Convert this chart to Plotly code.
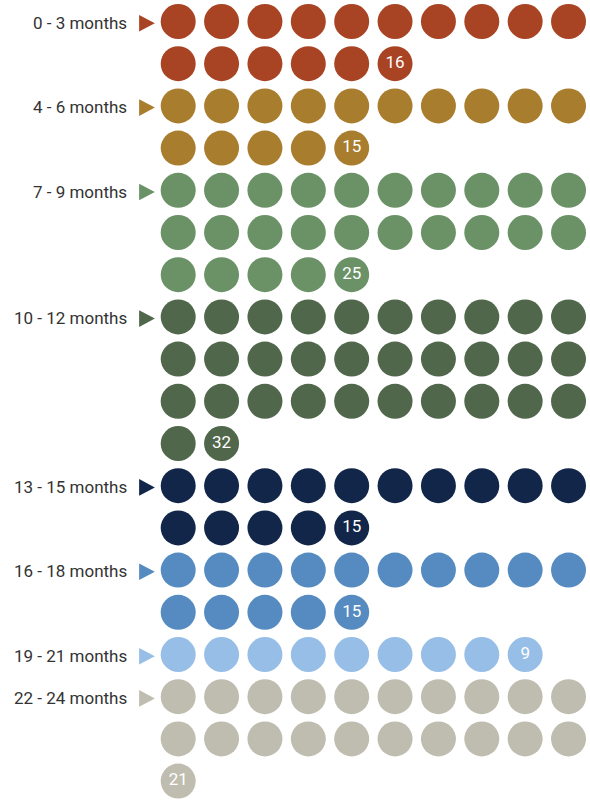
import math
import plotly.graph_objects as go

# ---- data ----
groups = ["0 - 3 months", "4 - 6 months", "7 - 9 months", "10 - 12 months",
          "13 - 15 months", "16 - 18 months", "19 - 21 months", "22 - 24 months"]
counts = [16, 15, 25, 32, 15, 15, 9, 21]
colors = ["#A84424", "#A97D2E", "#6B9266", "#50674C",
          "#12264A", "#558BC0", "#97BEE6", "#BFBDB0"]

# ---- layout constants ----
PER_ROW = 10
W, H = 590, 802
COL0_PX, COL_PITCH = 178.2, 43.37
ROW0_PX, ROW_PITCH = 21.5, 42.2
DOT = 35
FONT = "Roboto"

x_range = [-COL0_PX / COL_PITCH, (W - COL0_PX) / COL_PITCH]
y_range = [(H - ROW0_PX) / ROW_PITCH, -ROW0_PX / ROW_PITCH]

fig = go.Figure()
annotations = []
row_start = 0
tri_cx = (147 - COL0_PX) / COL_PITCH
tri_w = 15.7 / COL_PITCH
tri_h = 8.3 / ROW_PITCH
label_x = (128.5 - COL0_PX) / COL_PITCH

for name, n, col in zip(groups, counts, colors):
    xs = [i % PER_ROW for i in range(n)]
    ys = [row_start + i // PER_ROW for i in range(n)]
    texts = [""] * (n - 1) + [str(n)]
    fig.add_trace(go.Scatter(
        x=xs, y=ys, mode="markers+text", text=texts,
        textposition="middle center",
        textfont=dict(family=FONT, size=17, color="white"),
        marker=dict(size=DOT, color=col, line=dict(width=0)),
        hoverinfo="skip", showlegend=False, cliponaxis=False))
    ty = row_start + 0.04
    fig.add_trace(go.Scatter(
        x=[tri_cx - tri_w / 2, tri_cx + tri_w / 2, tri_cx - tri_w / 2, tri_cx - tri_w / 2],
        y=[ty - tri_h, ty, ty + tri_h, ty - tri_h],
        mode="lines", fill="toself", fillcolor=col,
        line=dict(width=0, color=col),
        hoverinfo="skip", showlegend=False))
    annotations.append(dict(
        x=label_x, y=row_start + 0.03, xref="x", yref="y", text=name,
        showarrow=False, xanchor="right", yanchor="middle",
        font=dict(family=FONT, size=17, color="#333333")))
    row_start += math.ceil(n / PER_ROW)

fig.update_layout(
    width=W, height=H, autosize=False,
    margin=dict(l=0, r=0, t=0, b=0, pad=0),
    paper_bgcolor="white", plot_bgcolor="white",
    xaxis=dict(range=x_range, visible=False, fixedrange=True),
    yaxis=dict(range=y_range, visible=False, fixedrange=True),
    annotations=annotations,
)

fig.write_html("out.html")
